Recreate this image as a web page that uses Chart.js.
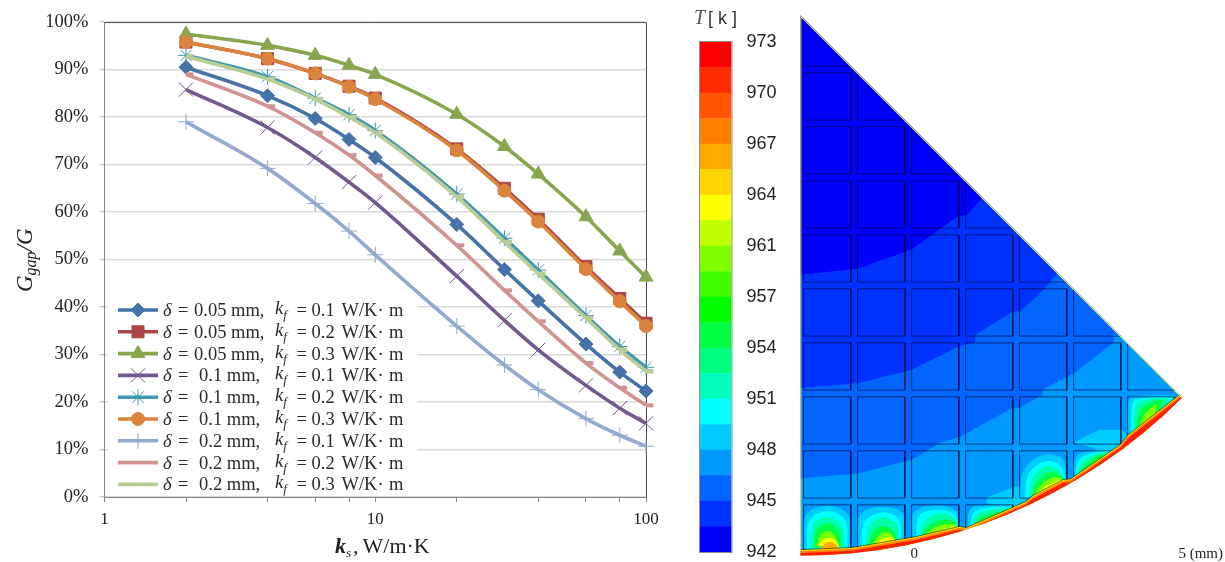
<!DOCTYPE html>
<html>
<head>
<meta charset="utf-8">
<style>
  html, body { margin: 0; padding: 0; background: #fff; width: 1225px; height: 562px; overflow: hidden; }
  canvas { position: absolute; display: block; filter: blur(.4px); }
  #chart-lines { left: 0; top: 0; }
  #chart-bar { left: 690px; top: 0; }
  #chart-field { left: 795px; top: 5px; }
</style>
<script src="https://cdn.jsdelivr.net/npm/chart.js@4/dist/chart.umd.js"></script>
</head>
<body>
<canvas id="chart-lines" width="670" height="562"></canvas>
<canvas id="chart-bar" width="100" height="562"></canvas>
<canvas id="chart-field" width="430" height="556"></canvas>
<script>
/* ── Left chart data: Ggap/G against ks ── */
const ksValues = [2, 4, 6, 8, 10, 20, 30, 40, 60, 80, 100];
const d005k01 = [90.5, 84.5, 79.7, 75.3, 71.5, 57.4, 47.9, 41.3, 32.2, 26.3, 22.3];
const d005k02 = [95.8, 92.3, 89.2, 86.5, 84.0, 73.3, 65.0, 58.5, 48.5, 41.8, 36.6];
const d005k03 = [97.5, 95.1, 93.0, 90.9, 89.0, 80.6, 73.8, 68.0, 59.0, 51.8, 46.3];
const d01k01  = [85.8, 77.8, 71.5, 66.3, 62.0, 46.5, 37.2, 31.0, 23.5, 18.7, 15.5];
const d01k02  = [93.0, 88.5, 84.0, 80.5, 77.2, 63.8, 54.5, 47.8, 38.2, 31.7, 27.3];
const d01k03  = [95.8, 92.3, 89.2, 86.4, 83.8, 73.0, 64.5, 58.0, 48.0, 41.2, 36.0];
const d02k01  = [79.0, 69.2, 61.8, 56.0, 51.0, 36.0, 27.8, 22.6, 16.5, 13.0, 10.7];
const d02k02  = [89.0, 82.3, 76.7, 72.0, 67.7, 53.0, 43.5, 37.0, 28.2, 23.0, 19.3];
const d02k03  = [92.8, 88.0, 83.8, 80.0, 76.7, 63.2, 53.7, 47.0, 37.7, 31.0, 26.5];
const seriesValues = [d005k01, d005k02, d005k03, d01k01, d01k02, d01k03, d02k01, d02k02, d02k03];

const legendDelta = ['0.05', '0.05', '0.05', '0.1', '0.1', '0.1', '0.2', '0.2', '0.2'];
const legendK     = ['0.1', '0.2', '0.3', '0.1', '0.2', '0.3', '0.1', '0.2', '0.3'];

const xTickValues = [1, 2, 4, 6, 8, 10, 20, 40, 60, 80, 100];
const xTickLabels = ['1', '', '', '', '', '10', '', '', '', '', '100'];

const seriesColors  = ['#4572a7', '#aa4643', '#89a54e', '#71588f', '#4198af', '#db843d', '#93a9cf', '#d19392', '#b9cd96'];
const seriesMarkers = ['rectRot', 'rect', 'triangle', 'crossRot', 'star', 'circle', 'cross', 'dash', 'dash'];
const markerSizes   = [7, 8.5, 8, 10, 8, 6.5, 8, 7.5, 7.5];
const markerStrokes = [1, 1, 1, 1, 1, 1, 1, 4, 4.5];

/* ── Colour bar data ── */
const barEdges = [942, 943.55, 945.1, 946.65, 948.2, 949.75, 951.3, 952.85, 954.4, 955.95, 957.5,
                  959.05, 960.6, 962.15, 963.7, 965.25, 966.8, 968.35, 969.9, 971.45, 973];
const barColors = ['#0000ff', '#0033ff', '#0066ff', '#0099ff', '#00ccff', '#00ffff', '#00ffbf', '#00ff80', '#00ff40', '#00ff00',
                   '#40ff00', '#80ff00', '#bfff00', '#ffff00', '#ffd500', '#ffaa00', '#ff8000', '#ff5500', '#ff2b00', '#ff0000'];
const barTickValues = [942, 945.1, 948.2, 951.3, 954.4, 957.5, 960.6, 963.7, 966.8, 969.9, 973];
const barTickLabels = ['942', '945', '948', '951', '954', '957', '961', '964', '967', '970', '973'];

/* ── Temperature field, in mm, apex at (0, 10), radius 10 ── */
const bandAll = [[-1, -1], [9, -1], [9, 11], [-1, 11]];
const bandC = [[-1, 1.43], [0, 1.43], [1.06, 1.52], [2.06, 1.78], [2.59, 2.09], [2.96, 2.2], [3.93, 2.74], [4.06, 2.74], [4.48, 2.98], [4.48, 3.07], [5.09, 3.39], [5.8, 3.94], [5.8, 4.09], [6.1, 4.09], [6.1, 11], [-1, 11]];
const bandB = [[-1, 3.11], [0, 3.11], [1.06, 3.19], [2.06, 3.44], [2.93, 3.87], [3.24, 3.94], [3.24, 4.09], [3.94, 4.52], [4.06, 4.52], [4.31, 4.74], [4.59, 5.02], [4.76, 5.24], [5, 5.24], [5, 11], [-1, 11]];
const bandA = [[-1, 5.2], [0, 5.2], [1.06, 5.31], [2.06, 5.67], [2.61, 6.07], [2.91, 6.28], [3.09, 6.31], [3.37, 6.63], [3.6, 6.63], [3.6, 11], [-1, 11]];
const bandLayers = [bandAll, bandC, bandB, bandA];
const bandLayerColors = ['#0099ff', '#0066ff', '#0033ff', '#0000ff'];

const patchCyan = [[3.43, .98], [3.48, 1.09], [3.93, 1.26], [4.17, 1.3], [4.17, 1], [3.89, .85]];
const patchLower = [[5.08, 2.09], [5.25, 2.2], [5.55, 2.33], [5.95, 2.33], [6.1, 2.2], [6.1, 1.9], [5.7, 1.85], [5.4, 2]];

const blobColors = ['#00ccff', '#00ffff', '#00ffaa', '#00ff40', '#80ff00', '#ffff00', '#ffaa00'];
const blobA = [
  [[.06, .1], [.1, .75], [.5, .92], [.89, .75], [.93, .15]],
  [[.12, .1], [.17, .66], [.5, .82], [.83, .66], [.88, .15]],
  [[.18, .1], [.24, .57], [.5, .72], [.76, .57], [.82, .15]],
  [[.25, .15], [.3, .47], [.5, .6], [.7, .47], [.76, .18]],
  [[.3, .18], [.36, .36], [.5, .46], [.64, .36], [.7, .2]],
  [[.32, .18], [.4, .28], [.55, .33], [.68, .25], [.72, .15]],
  [[.35, .1], [.45, .22], [.56, .25], [.66, .2], [.72, .1]],
];
const blobB = [
  [[1.06, .12], [1.1, .75], [1.5, .9], [1.9, .78], [1.94, .28]],
  [[1.12, .12], [1.2, .64], [1.52, .8], [1.82, .68], [1.88, .28]],
  [[1.2, .14], [1.28, .56], [1.52, .71], [1.76, .6], [1.84, .3]],
  [[1.25, .14], [1.35, .44], [1.54, .55], [1.72, .46], [1.78, .3]],
  [[1.3, .16], [1.42, .34], [1.56, .44], [1.68, .4], [1.76, .3]],
  [[1.32, .16], [1.44, .26], [1.58, .33], [1.7, .33], [1.76, .28]],
  [[1.38, .14], [1.5, .22], [1.6, .26], [1.7, .28], [1.74, .24]],
];
const blobC = [
  [[2.06, .3], [2.1, .8], [2.5, .93], [2.9, .82], [2.94, .5]],
  [[2.14, .3], [2.2, .74], [2.55, .85], [2.86, .76], [2.92, .52]],
  [[2.2, .32], [2.3, .64], [2.6, .79], [2.84, .7], [2.92, .52]],
  [[2.22, .34], [2.38, .56], [2.62, .66], [2.82, .64], [2.92, .5]],
  [[2.28, .36], [2.45, .5], [2.66, .58], [2.85, .58], [2.94, .52]],
  [[2.36, .36], [2.5, .44], [2.7, .5], [2.88, .54], [2.94, .5]],
];
const blobD = [
  [[3.1, .5], [3.12, .82], [3.25, .92], [3.95, .94], [3.95, .85]],
  [[3.14, .52], [3.2, .78], [3.35, .87], [3.9, .9], [3.9, .8]],
  [[3.18, .54], [3.24, .72], [3.4, .82], [3.8, .87], [3.8, .75]],
  [[3.2, .54], [3.3, .68], [3.45, .75], [3.7, .8], [3.7, .72]],
  [[3.22, .54], [3.36, .64], [3.5, .7], [3.62, .73], [3.6, .65]],
  [[3.24, .56], [3.4, .6], [3.55, .66], [3.6, .66], [3.6, .6]],
];
const blobE = [
  [[4.08, 1], [4.12, 1.55], [4.45, 1.85], [4.85, 1.8], [4.93, 1.4]],
  [[4.16, 1.05], [4.22, 1.5], [4.5, 1.74], [4.8, 1.68], [4.92, 1.4]],
  [[4.24, 1.1], [4.3, 1.44], [4.55, 1.66], [4.78, 1.58], [4.9, 1.4]],
  [[4.28, 1.1], [4.38, 1.36], [4.6, 1.54], [4.78, 1.5], [4.88, 1.4]],
  [[4.32, 1.12], [4.45, 1.3], [4.65, 1.44], [4.8, 1.44], [4.88, 1.38]],
  [[4.36, 1.12], [4.52, 1.26], [4.7, 1.36], [4.82, 1.4], [4.88, 1.38]],
];
const blobF = [
  [[5.04, 1.38], [5.08, 1.78], [5.2, 1.9], [5.75, 1.96], [5.75, 1.88]],
  [[5.08, 1.4], [5.14, 1.74], [5.28, 1.86], [5.7, 1.94], [5.7, 1.85]],
  [[5.12, 1.42], [5.18, 1.68], [5.33, 1.82], [5.65, 1.92], [5.65, 1.83]],
  [[5.14, 1.44], [5.24, 1.64], [5.38, 1.76], [5.58, 1.88], [5.58, 1.76]],
  [[5.16, 1.46], [5.3, 1.58], [5.42, 1.69], [5.5, 1.8], [5.5, 1.7]],
  [[5.2, 1.48], [5.32, 1.55], [5.42, 1.62], [5.46, 1.7], [5.46, 1.64]],
];
const blobG = [
  [[6.05, 2.2], [6.07, 2.85], [6.16, 2.94], [6.96, 2.96], [6.9, 2.85]],
  [[6.12, 2.25], [6.14, 2.8], [6.22, 2.9], [6.88, 2.93], [6.84, 2.8]],
  [[6.18, 2.3], [6.2, 2.72], [6.3, 2.86], [6.8, 2.91], [6.78, 2.76]],
  [[6.22, 2.32], [6.27, 2.64], [6.38, 2.78], [6.7, 2.88], [6.65, 2.7]],
  [[6.26, 2.34], [6.34, 2.55], [6.46, 2.7], [6.6, 2.8], [6.55, 2.62]],
  [[6.3, 2.36], [6.4, 2.48], [6.52, 2.6], [6.58, 2.72], [6.55, 2.58]],
];
const allBlobs = [blobA, blobB, blobC, blobD, blobE, blobF, blobG];

const chordLine = [[0, .11], [.96, .15], [2.13, .35], [2.94, .54], [3.07, .52], [4.17, 1], [4.3, 1.11], [4.87, 1.41], [5, 1.42], [5.74, 1.93], [5.93, 2.06], [6.07, 2.24], [7.02, 2.98], [7.5, 3.2]];
const hotYellow = [...chordLine, [8, -1], [0, -1]];
const hotOrange = [[0, .085], [.96, .125], [2.13, .325], [2.94, .515], [3.07, .495], [4.17, .975], [4.3, 1.085], [4.87, 1.385], [5, 1.395], [5.74, 1.905], [5.93, 2.035], [6.07, 2.215], [7.02, 2.955], [7.5, 3.175], [8, -1], [0, -1]];
const hotRed = [[0, .05], [.96, .09], [2.13, .29], [2.94, .48], [3.07, .46], [4.17, .94], [4.3, 1.05], [4.87, 1.35], [5, 1.36], [5.74, 1.87], [5.93, 2], [6.07, 2.18], [7.02, 2.92], [7.5, 3.14], [8, -1], [0, -1]];

const edgeLine = [[0, .1], [0, 10], [7.07, 2.93]];

const blockColumns = [.06, 1.06, 2.06, 3.06, 4.06, 5.06, 6.06, 7.06];
const blockRows    = [9.94, 8.94, 7.94, 6.94, 5.94, 4.94, 3.94, 2.94, 1.94, .94];
const blockSize = .875;
const scaleBarAt = [2.11, 7];
const scaleBarLabels = ['0', '5 (mm)'];

/* ─────────────────────────────────────────
   Shared helpers
───────────────────────────────────────── */
const SERIF = "'Liberation Serif', serif";
const SANS  = "'Liberation Sans', sans-serif";
Chart.defaults.animation = false;
Chart.defaults.font.family = SERIF;
Chart.defaults.plugins.legend.display = false;
Chart.defaults.plugins.tooltip.enabled = false;

/* Draws text pieces one after another: [text, font, yOffset, gapAfter] */
function drawRuns(ctx, x, y, runs) {
  runs.forEach(([text, font, dy = 0, gap = 0]) => {
    ctx.font = font;
    ctx.fillText(text, x, y + dy);
    x += ctx.measureText(text).width + gap;
  });
}

/* ─────────────────────────────────────────
   LEFT CHART: curves
───────────────────────────────────────── */
const frameAndLegend = {
  id: 'frameAndLegend',
  beforeDatasetsDraw(chart) {
    const { ctx, chartArea: a } = chart;
    ctx.save();
    ctx.strokeStyle = '#4a4a4a';
    ctx.lineWidth = 1;
    ctx.beginPath();
    ctx.moveTo(a.left, a.top + .5);
    ctx.lineTo(a.right + .5, a.top + .5);
    ctx.lineTo(a.right + .5, a.bottom);
    ctx.stroke();

    /* white block behind the legend */
    ctx.fillStyle = '#fff';
    ctx.fillRect(108, 298, 309, 196);

    seriesValues.forEach((_, i) => {
      const y = 310 + i * 21.8;
      ctx.strokeStyle = seriesColors[i];
      ctx.fillStyle = seriesColors[i];
      ctx.lineWidth = 3.6;
      ctx.beginPath();
      ctx.moveTo(118, y);
      ctx.lineTo(158, y);
      ctx.stroke();
      if (seriesMarkers[i] !== 'dash') {
        ctx.lineWidth = markerStrokes[i];
        Chart.helpers.drawPoint(ctx, { pointStyle: seriesMarkers[i], radius: markerSizes[i], rotation: 0, borderWidth: markerStrokes[i] }, 138, y);
      }
      ctx.fillStyle = '#2a2a2a';
      ctx.textBaseline = 'alphabetic';
      ctx.textAlign = 'left';
      const base = y + 6;
      const roman = `18.5px ${SERIF}`;
      ctx.font = `italic 18.5px ${SERIF}`;
      ctx.fillText('δ', 163, base);
      ctx.font = roman;
      ctx.fillText('=', 178, base);
      ctx.fillText(`${legendDelta[i]} mm,`, legendDelta[i] === '0.05' ? 194 : 199, base);
      drawRuns(ctx, 275, base - 2, [['k', `italic 18.5px ${SERIF}`], ['f', `italic 13px ${SERIF}`, 5]]);
      ctx.font = roman;
      ctx.fillText('=', 296.5, base);
      ctx.fillText(legendK[i], 311.5, base);
      ctx.fillText('W/K·', 341.5, base);
      ctx.fillText('m', 389, base);
    });
    ctx.restore();
  },
  afterDraw(chart) {
    const { ctx } = chart;
    ctx.save();
    ctx.fillStyle = '#222';
    ctx.textAlign = 'left';
    ctx.textBaseline = 'alphabetic';
    drawRuns(ctx, 335, 553, [
      ['k', `italic bold 22px ${SERIF}`],
      ['s', `italic 13px ${SERIF}`, 4, 2],
      [',', `22px ${SERIF}`, 0, 4],
      ['W/m·K', `22px ${SERIF}`],
    ]);
    ctx.translate(32, 292);
    ctx.rotate(-Math.PI / 2);
    drawRuns(ctx, 0, 0, [
      ['G', `italic 23px ${SERIF}`],
      ['gap', `italic 16px ${SERIF}`, 4],
      ['/G', `italic 23px ${SERIF}`],
    ]);
    ctx.restore();
  }
};

new Chart(document.getElementById('chart-lines'), {
  type: 'line',
  data: {
    labels: ksValues,
    datasets: seriesValues.map((values, i) => ({
      data: values.map((v, j) => ({ x: ksValues[j], y: v })),
      borderColor: seriesColors[i],
      backgroundColor: seriesColors[i],
      borderWidth: 3.6,
      cubicInterpolationMode: 'monotone',
      pointStyle: seriesMarkers[i],
      pointRadius: markerSizes[i],
      pointBorderWidth: markerStrokes[i],
      pointBorderColor: seriesColors[i],
      pointBackgroundColor: seriesColors[i],
      clip: false,
      order: seriesValues.length - i,
    }))
  },
  options: {
    responsive: false,
    layout: { padding: { top: 22, right: 24, left: 0, bottom: 0 } },
    scales: {
      x: {
        type: 'logarithmic',
        min: 1,
        max: 100,
        afterBuildTicks: s => { s.ticks = xTickValues.map(value => ({ value })); },
        afterFit: s => { s.height = 65; },
        grid: { drawOnChartArea: false, tickLength: 5, tickColor: '#868686' },
        border: { color: '#868686' },
        ticks: {
          autoSkip: false,
          maxRotation: 0,
          padding: 7,
          color: '#222',
          font: { size: 17 },
          callback: (v, i) => xTickLabels[i],
        }
      },
      y: {
        min: 0,
        max: 100,
        afterFit: s => { s.width = 104.5; },
        grid: { color: '#d9d9d9', lineWidth: 1.4, tickLength: 5, tickColor: '#c8c8c8' },
        border: { color: '#868686' },
        ticks: {
          stepSize: 10,
          padding: 11,
          color: '#222',
          font: { size: 18.5 },
          callback: v => `${v}%`,
        }
      }
    }
  },
  plugins: [frameAndLegend]
});

/* ─────────────────────────────────────────
   COLOUR BAR
───────────────────────────────────────── */
const barFrame = {
  id: 'barFrame',
  afterDraw(chart) {
    const { ctx, chartArea: a } = chart;
    ctx.save();
    ctx.strokeStyle = '#8f8f8f';
    ctx.lineWidth = 1;
    ctx.strokeRect(a.left - .5, a.top - .5, a.width + 1, a.height + 1);
    ctx.textBaseline = 'alphabetic';
    ctx.fillStyle = '#555';
    ctx.font = `italic 20px ${SERIF}`;
    ctx.fillText('T', 4, 24);
    ctx.fillStyle = '#333';
    ctx.font = `18px ${SANS}`;
    ctx.fillText('[ k ]', 18, 24);
    ctx.restore();
  }
};

new Chart(document.getElementById('chart-bar'), {
  type: 'bar',
  data: {
    labels: ['T'],
    datasets: barColors.map((color, i) => ({
      data: [[barEdges[i], barEdges[i + 1]]],
      backgroundColor: color,
      grouped: false,
      barPercentage: 1,
      categoryPercentage: 1,
    }))
  },
  options: {
    responsive: false,
    layout: { padding: { left: 10, top: 42, bottom: 10, right: 0 } },
    scales: {
      x: { display: false },
      y: {
        position: 'right',
        min: 942,
        max: 973,
        afterBuildTicks: s => { s.ticks = barTickValues.map(value => ({ value })); },
        afterFit: s => { s.width = 58.5; s.paddingTop = 0; s.paddingBottom = 0; },
        grid: { display: false },
        border: { display: false },
        ticks: {
          autoSkip: false,
          padding: 7,
          color: '#222',
          font: { family: SANS, size: 18 },
          callback: (v, i) => barTickLabels[i],
        }
      }
    }
  },
  plugins: [barFrame]
});

/* ─────────────────────────────────────────
   TEMPERATURE FIELD
───────────────────────────────────────── */
const fieldDatasets = [];

function addShape(data, color) {
  fieldDatasets.push({ data, showLine: true, fill: 'shape', backgroundColor: color, borderWidth: 0, pointRadius: 0, clip: false });
}
function addBlob(data, color) {
  fieldDatasets.push({ data, showLine: true, fill: 'shape', backgroundColor: color, borderWidth: 0, pointRadius: 0, tension: .35, clip: false });
}
function addStroke(data, color, width) {
  fieldDatasets.push({ data, showLine: true, fill: false, borderColor: color, borderWidth: width, pointRadius: 0, clip: false });
}

bandLayers.forEach((band, i) => addShape(band, bandLayerColors[i]));
addShape(patchCyan, blobColors[0]);
addShape(patchLower, blobColors[0]);
allBlobs.forEach(blob => blob.forEach((layer, i) => addBlob(layer, blobColors[i])));

/* solid blocks as one broken line */
const blockOutline = [];
blockRows.forEach(top => blockColumns.forEach(left => {
  blockOutline.push(
    { x: left, y: top }, { x: left + blockSize, y: top },
    { x: left + blockSize, y: top - blockSize }, { x: left, y: top - blockSize },
    { x: left, y: top }, { x: left, y: null }
  );
}));
addStroke(blockOutline, 'rgba(0,0,50,.62)', 1);

addShape(hotYellow, '#ffe600');
addShape(hotOrange, '#ff8800');
addShape(hotRed, '#ff2000');
addStroke(chordLine, 'rgba(20,20,20,.75)', .8);
addStroke(edgeLine, '#f0f060', 1.8);
fieldDatasets.forEach((d, i) => { d.order = fieldDatasets.length - i; });

/* Everything in the field is clipped to the 45 degree sector */
const sectorClip = {
  id: 'sectorClip',
  beforeDatasetsDraw(chart) {
    const { ctx, scales: { x, y } } = chart;
    const cx = x.getPixelForValue(0);
    const cy = y.getPixelForValue(10);
    const r = y.getPixelForValue(0) - cy;
    ctx.save();
    ctx.beginPath();
    ctx.moveTo(cx, cy);
    ctx.arc(cx, cy, r, Math.PI / 4, Math.PI / 2);
    ctx.closePath();
    ctx.clip();
  },
  afterDatasetsDraw(chart) {
    const { ctx, scales: { x } } = chart;
    ctx.restore();
    ctx.save();
    ctx.fillStyle = '#222';
    ctx.font = `15px ${SERIF}`;
    ctx.textBaseline = 'alphabetic';
    scaleBarLabels.forEach((label, i) => {
      ctx.textAlign = i === 0 ? 'center' : 'left';
      ctx.fillText(label, x.getPixelForValue(scaleBarAt[i]), 553);
    });
    ctx.restore();
  }
};

new Chart(document.getElementById('chart-field'), {
  type: 'scatter',
  data: { datasets: fieldDatasets },
  options: {
    responsive: false,
    scales: {
      x: { display: false, type: 'linear', min: -.1, max: 7.863 },
      y: { display: false, type: 'linear', min: -.1, max: 10.196 },
    }
  },
  plugins: [sectorClip]
});
</script>
</body>
</html>
